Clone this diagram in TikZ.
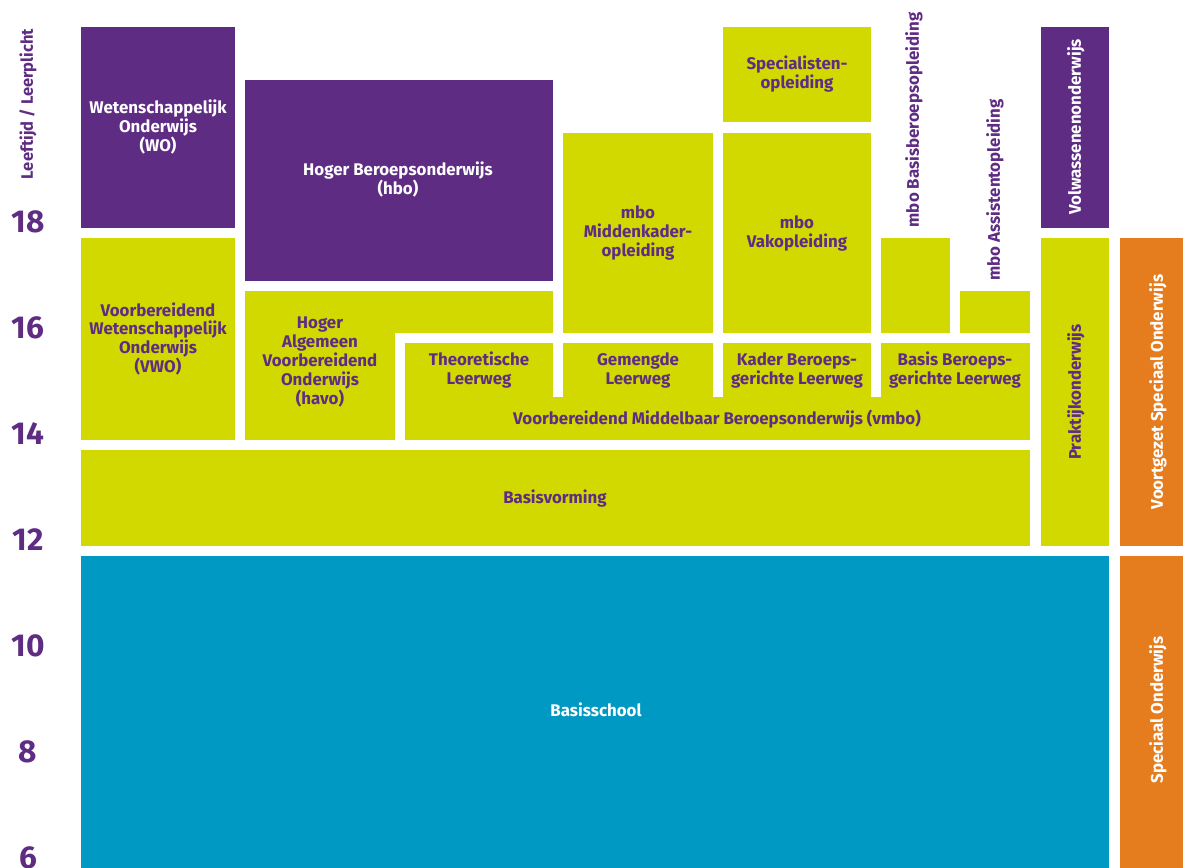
\documentclass[tikz,border=0pt]{standalone}
\usepackage{fontspec}
\setmainfont{Fira Sans}
\usepackage{tikz}

\definecolor{hbopurple}{RGB}{95,44,132}
\definecolor{mbolime}{RGB}{210,217,0}
\definecolor{poblue}{RGB}{0,153,196}
\definecolor{sborange}{RGB}{229,125,31}

\begin{document}
\begin{tikzpicture}[font=\bfseries\fontsize{9.6}{10.8}\selectfont,
    onpurple/.style={text=white, align=center},
    onlime/.style={text=hbopurple, align=center},
    agenum/.style={text=hbopurple, font=\bfseries\fontsize{18}{18}\selectfont}]

      \useasboundingbox (0, 0) rectangle (23.66, 17.36);

      % leeftijden
      \draw (0.56, 15.28) node[text=hbopurple, rotate=90, font=\bfseries\fontsize{9.4}{10}\selectfont] (leeftijd) {Leeftijd / Leerplicht};
      \foreach \age [count=\i from 0] in {18,16,...,6}
        \draw (0.56, 12.92-2.12*\i) node[agenum] (age\age) {\age};

      % hoger onderwijs
      \fill [hbopurple] (1.62, 16.82) rectangle (4.70, 12.80);
      \draw (3.16, 14.82) node[onpurple] (wo) {Wetenschappelijk\\Onderwijs\\(WO)};

      \fill [hbopurple] (4.90, 15.76) rectangle (11.06, 11.74);
      \draw (7.96, 13.76) node[onpurple] (hbo) {Hoger Beroepsonderwijs\\(hbo)};

      % mbo
      \fill [mbolime] (14.46, 16.82) rectangle (17.42, 14.92);
      \draw (15.94, 15.87) node[onlime] (specialist) {Specialisten-\\opleiding};

      \fill [mbolime] (11.26, 14.70) rectangle (14.26, 10.70);
      \draw (12.76, 12.70) node[onlime] (middenkader) {mbo\\Middenkader-\\opleiding};

      \fill [mbolime] (14.46, 14.70) rectangle (17.42, 10.70);
      \draw (15.94, 12.70) node[onlime] (vakopl) {mbo\\Vakopleiding};

      \fill [mbolime] (17.62, 12.60) rectangle (19.00, 10.70);
      \draw (18.28, 14.96) node[onlime, rotate=90] (basisberoeps) {mbo Basisberoepsopleiding};

      \fill [mbolime] (19.20, 11.54) rectangle (20.60, 10.70);
      \draw (19.90, 13.56) node[onlime, rotate=90] (assistent) {mbo Assistentopleiding};

      % voortgezet onderwijs
      \fill [mbolime] (1.62, 12.60) rectangle (4.70, 8.56);
      \draw (3.16, 10.58) node[onlime] (vwo) {Voorbereidend\\Wetenschappelijk\\Onderwijs\\(VWO)};

      \fill [mbolime] (4.90, 11.54) rectangle (7.90, 8.56);
      \fill [mbolime] (4.90, 11.54) rectangle (11.06, 10.70);
      \draw (6.40, 10.12) node[onlime] (havo) {Hoger\\Algemeen\\Voorbereidend\\Onderwijs\\(havo)};

      \fill [mbolime] (8.10, 9.42) rectangle (20.60, 8.56);
      \fill [mbolime] (8.10, 10.50) rectangle (11.06, 9.00);
      \fill [mbolime] (11.26, 10.50) rectangle (14.26, 9.00);
      \fill [mbolime] (14.46, 10.50) rectangle (17.42, 9.00);
      \fill [mbolime] (17.62, 10.50) rectangle (20.60, 9.00);

      \draw (9.58, 9.96) node[onlime] (theoretisch) {Theoretische\\Leerweg};
      \draw (12.76, 9.96) node[onlime] (gemengd) {Gemengde\\Leerweg};
      \draw (15.94, 9.96) node[onlime] (kader) {Kader Beroeps-\\gerichte Leerweg};
      \draw (19.10, 9.96) node[onlime] (basis) {Basis Beroeps-\\gerichte Leerweg};
      \draw (14.34, 8.98) node[onlime] (vmbo) {Voorbereidend Middelbaar Beroepsonderwijs (vmbo)};

      \fill [mbolime] (1.62, 8.36) rectangle (20.60, 6.44);
      \draw (11.10, 7.38) node[onlime] (basisvorming) {Basisvorming};

      % rechterkolommen
      \fill [hbopurple] (20.82, 16.82) rectangle (22.18, 12.80);
      \draw (21.52, 14.82) node[onpurple, rotate=90] (volwassenen) {Volwassenenonderwijs};

      \fill [mbolime] (20.82, 12.60) rectangle (22.18, 6.44);
      \draw (21.52, 9.52) node[onlime, rotate=90] (praktijk) {Praktijkonderwijs};

      \fill [sborange] (22.40, 12.60) rectangle (23.66, 6.44);
      \draw (23.16, 9.52) node[onpurple, rotate=90] (vso) {Voortgezet Speciaal Onderwijs};

      % primair onderwijs
      \fill [poblue] (1.62, 6.24) rectangle (22.18, 0);
      \draw (11.92, 3.16) node[onpurple] (basisschool) {Basisschool};

      \fill [sborange] (22.40, 6.24) rectangle (23.66, 0);
      \draw (23.16, 3.16) node[onpurple, rotate=90] (so) {Speciaal Onderwijs};
    \end{tikzpicture}
\end{document}
